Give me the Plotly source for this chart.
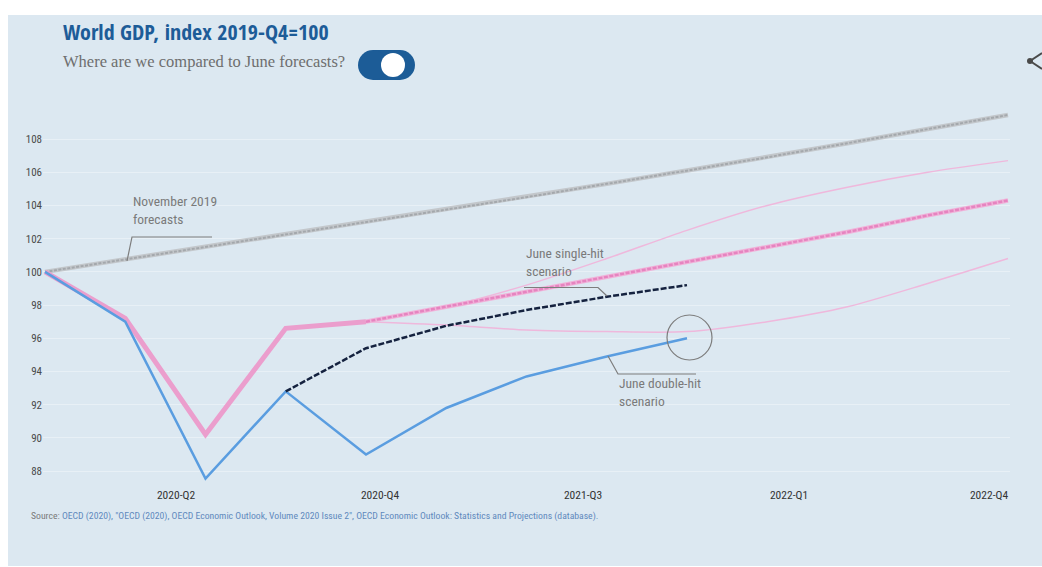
import plotly.graph_objects as go

# ---------------- data ----------------
quarters = ["2019-Q4", "2020-Q1", "2020-Q2", "2020-Q3", "2020-Q4",
            "2021-Q1", "2021-Q2", "2021-Q3", "2021-Q4",
            "2022-Q1", "2022-Q2", "2022-Q3", "2022-Q4"]

nov2019 = [100, 100.75, 101.5, 102.25, 103.0, 103.75, 104.5, 105.3, 106.1,
           106.9, 107.75, 108.6, 109.45]
nov2020_actual = [100, 97.2, 90.2, 96.6, 97.0]                       # 2019-Q4 .. 2020-Q4
nov2020_baseline = [97.0, 97.9, 98.8, 99.7, 100.6, 101.5, 102.4, 103.4, 104.3]  # 2020-Q4 .. 2022-Q4
nov2020_upside = [97.0, 97.9, 99.2, 100.8, 102.5, 104.0, 105.1, 106.0, 106.7]
nov2020_downside = [97.0, 96.8, 96.5, 96.4, 96.4, 97.0, 97.9, 99.3, 100.8]
june_double_hit = [100, 97.0, 87.55, 92.8, 89.0, 91.8, 93.7, 94.9, 96.0]  # 2019-Q4 .. 2021-Q4
june_single_hit = [92.8, 95.4, 96.75, 97.7, 98.5, 99.2]                   # 2020-Q3 .. 2021-Q4

tick_labels = ["2020-Q2", "2020-Q4", "2021-Q3", "2022-Q1", "2022-Q4"]
y_ticks = [88, 90, 92, 94, 96, 98, 100, 102, 104, 106, 108]

# ---------------- geometry helpers ----------------
W, H = 1042, 567
ML, MR, MT, MB = 43, 32, 107, 81
PW, PH = W - ML - MR, H - MT - MB
XR = [-0.025, 12.025]
YR = [87.1, 109.93]


def xd(px):
    return XR[0] + (px - ML) / PW * (XR[1] - XR[0])


def yd(py):
    return YR[1] - (py - MT) / PH * (YR[1] - YR[0])


def xp(px):
    return (px - ML) / PW


def yp(py):
    return (H - MB - py) / PH


idx = list(range(len(quarters)))
COND = "Roboto Condensed, DejaVu Sans Condensed, sans-serif"
TITLEF = "Open Sans Condensed, Roboto Condensed, DejaVu Sans Condensed, sans-serif"

fig = go.Figure()


def add_line(xs, ys, color, width, dash="solid", shape="linear", name=""):
    fig.add_trace(go.Scatter(
        x=xs, y=ys, mode="lines", name=name,
        line=dict(color=color, width=width, dash=dash, shape=shape, smoothing=0.8),
        hoverinfo="skip", showlegend=False))


add_line(idx, nov2019, "#c3c7cb", 4.5, name="November 2019 forecasts")
add_line(idx, nov2019, "#a4a8ac", 2, dash="3px,1.5px")
add_line(idx[4:], nov2020_upside, "#efb8dc", 1.5, shape="spline", name="Upside")
add_line(idx[4:], nov2020_downside, "#efb8dc", 1.5, shape="spline", name="Downside")
add_line(idx[:5], nov2020_actual, "#eb9ecd", 5, name="Actual")
add_line(idx[4:], nov2020_baseline, "#f0b3d9", 4.5, name="Baseline")
add_line(idx[4:], nov2020_baseline, "#e684c0", 2.5, dash="4px,1.5px")
add_line(idx[:9], june_double_hit, "#5a9de0", 2.5, name="June double-hit scenario")
add_line(idx[3:9], june_single_hit, "#15223f", 2.5, dash="6px,2px", name="June single-hit scenario")

shapes = []
shapes.append(dict(type="rect", xref="paper", yref="paper", layer="below",
                   x0=xp(8), x1=xp(1042), y0=yp(566), y1=yp(15),
                   fillcolor="#dce8f1", line=dict(width=0)))
tog = "#1c5c97"
shapes.append(dict(type="rect", xref="paper", yref="paper",
                   x0=xp(373), x1=xp(400), y0=yp(80), y1=yp(50),
                   fillcolor=tog, line=dict(width=0)))
for cx in (373, 400):
    shapes.append(dict(type="circle", xref="paper", yref="paper",
                       x0=xp(cx - 15), x1=xp(cx + 15), y0=yp(80), y1=yp(50),
                       fillcolor=tog, line=dict(width=0)))
shapes.append(dict(type="circle", xref="paper", yref="paper",
                   x0=xp(381), x1=xp(405), y0=yp(77), y1=yp(53),
                   fillcolor="white", line=dict(width=0)))
ic = "#4a4a4a"
shapes.append(dict(type="circle", xref="paper", yref="paper",
                   x0=xp(1027), x1=xp(1033), y0=yp(64), y1=yp(58),
                   fillcolor=ic, line=dict(width=0)))
for ey in (53, 69):
    shapes.append(dict(type="line", xref="paper", yref="paper",
                       x0=xp(1030), y0=yp(61), x1=xp(1042), y1=yp(ey),
                       line=dict(color=ic, width=2)))
lead = dict(color="#7d7d7d", width=1.2)
shapes.append(dict(type="path", xref="x", yref="y", line=lead,
                   path=f"M {xd(212)},{yd(237)} L {xd(132)},{yd(237)} L {xd(127)},{yd(261)}"))
shapes.append(dict(type="path", xref="x", yref="y", line=lead,
                   path=f"M {xd(524)},{yd(287.5)} L {xd(598)},{yd(287.5)} L {xd(607)},{yd(296)}"))
shapes.append(dict(type="path", xref="x", yref="y", line=lead,
                   path=f"M {xd(608)},{yd(356)} L {xd(618)},{yd(374)} L {xd(696)},{yd(374)}"))
shapes.append(dict(type="circle", xref="x", yref="y",
                   x0=xd(667), x1=xd(712), y0=yd(360), y1=yd(315),
                   line=dict(color="#7d7d7d", width=1.2)))

ann = []
ann.append(dict(xref="paper", yref="paper", x=xp(61), y=yp(31), xanchor="left", yanchor="middle",
                text="<b>World GDP, index 2019-Q4=100</b>", showarrow=False,
                font=dict(family=TITLEF, size=22, color="#1d5c98")))
ann.append(dict(xref="paper", yref="paper", x=xp(61), y=yp(61), xanchor="left", yanchor="middle",
                text="Where are we compared to June forecasts?", showarrow=False,
                font=dict(family="Liberation Serif, DejaVu Serif, serif", size=16.5, color="#6e6e6e")))
lab = dict(family=COND, size=13.5, color="#7a7a7a")
ann.append(dict(xref="x", yref="y", x=xd(131), y=yd(210), xanchor="left", yanchor="middle",
                text="November 2019<br>forecasts", showarrow=False, align="left", font=lab))
ann.append(dict(xref="x", yref="y", x=xd(524), y=yd(262), xanchor="left", yanchor="middle",
                text="June single-hit<br>scenario", showarrow=False, align="left", font=lab))
ann.append(dict(xref="x", yref="y", x=xd(617), y=yd(392), xanchor="left", yanchor="middle",
                text="June double-hit<br>scenario", showarrow=False, align="left", font=lab))
ann.append(dict(xref="paper", yref="paper", x=xp(29), y=yp(516), xanchor="left", yanchor="middle",
                text=("<span style='color:#7a7a7a'>Source:</span> OECD (2020), \"OECD (2020), OECD Economic "
                      "Outlook, Volume 2020 Issue 2\", OECD Economic Outlook: Statistics and Projections (database)."),
                showarrow=False, font=dict(family=COND, size=9.7, color="#6088bd")))

tick_pos = [xd(176), xd(380), xd(583), xd(789), xd(989)]

fig.update_layout(
    width=W, height=H,
    margin=dict(l=ML, r=MR, t=MT, b=MB, pad=0),
    paper_bgcolor="white", plot_bgcolor="rgba(0,0,0,0)",
    shapes=shapes, annotations=ann, showlegend=False,
    xaxis=dict(range=XR, tickvals=tick_pos, ticktext=tick_labels, showgrid=False,
               zeroline=False, showline=False, ticks="", fixedrange=True,
               tickfont=dict(family=COND, size=11.5, color="#333333")),
    yaxis=dict(range=YR, tickvals=y_ticks, ticktext=[str(v) for v in y_ticks],
               showgrid=True, gridcolor="#e8f0f6", gridwidth=1, zeroline=False,
               showline=False, ticks="", fixedrange=True,
               tickfont=dict(family=COND, size=11, color="#4a4a4a")),
)

fig.write_html("out.html", config={"displayModeBar": False},
               post_script="document.body.style.margin='0';document.body.style.overflow='hidden';")
